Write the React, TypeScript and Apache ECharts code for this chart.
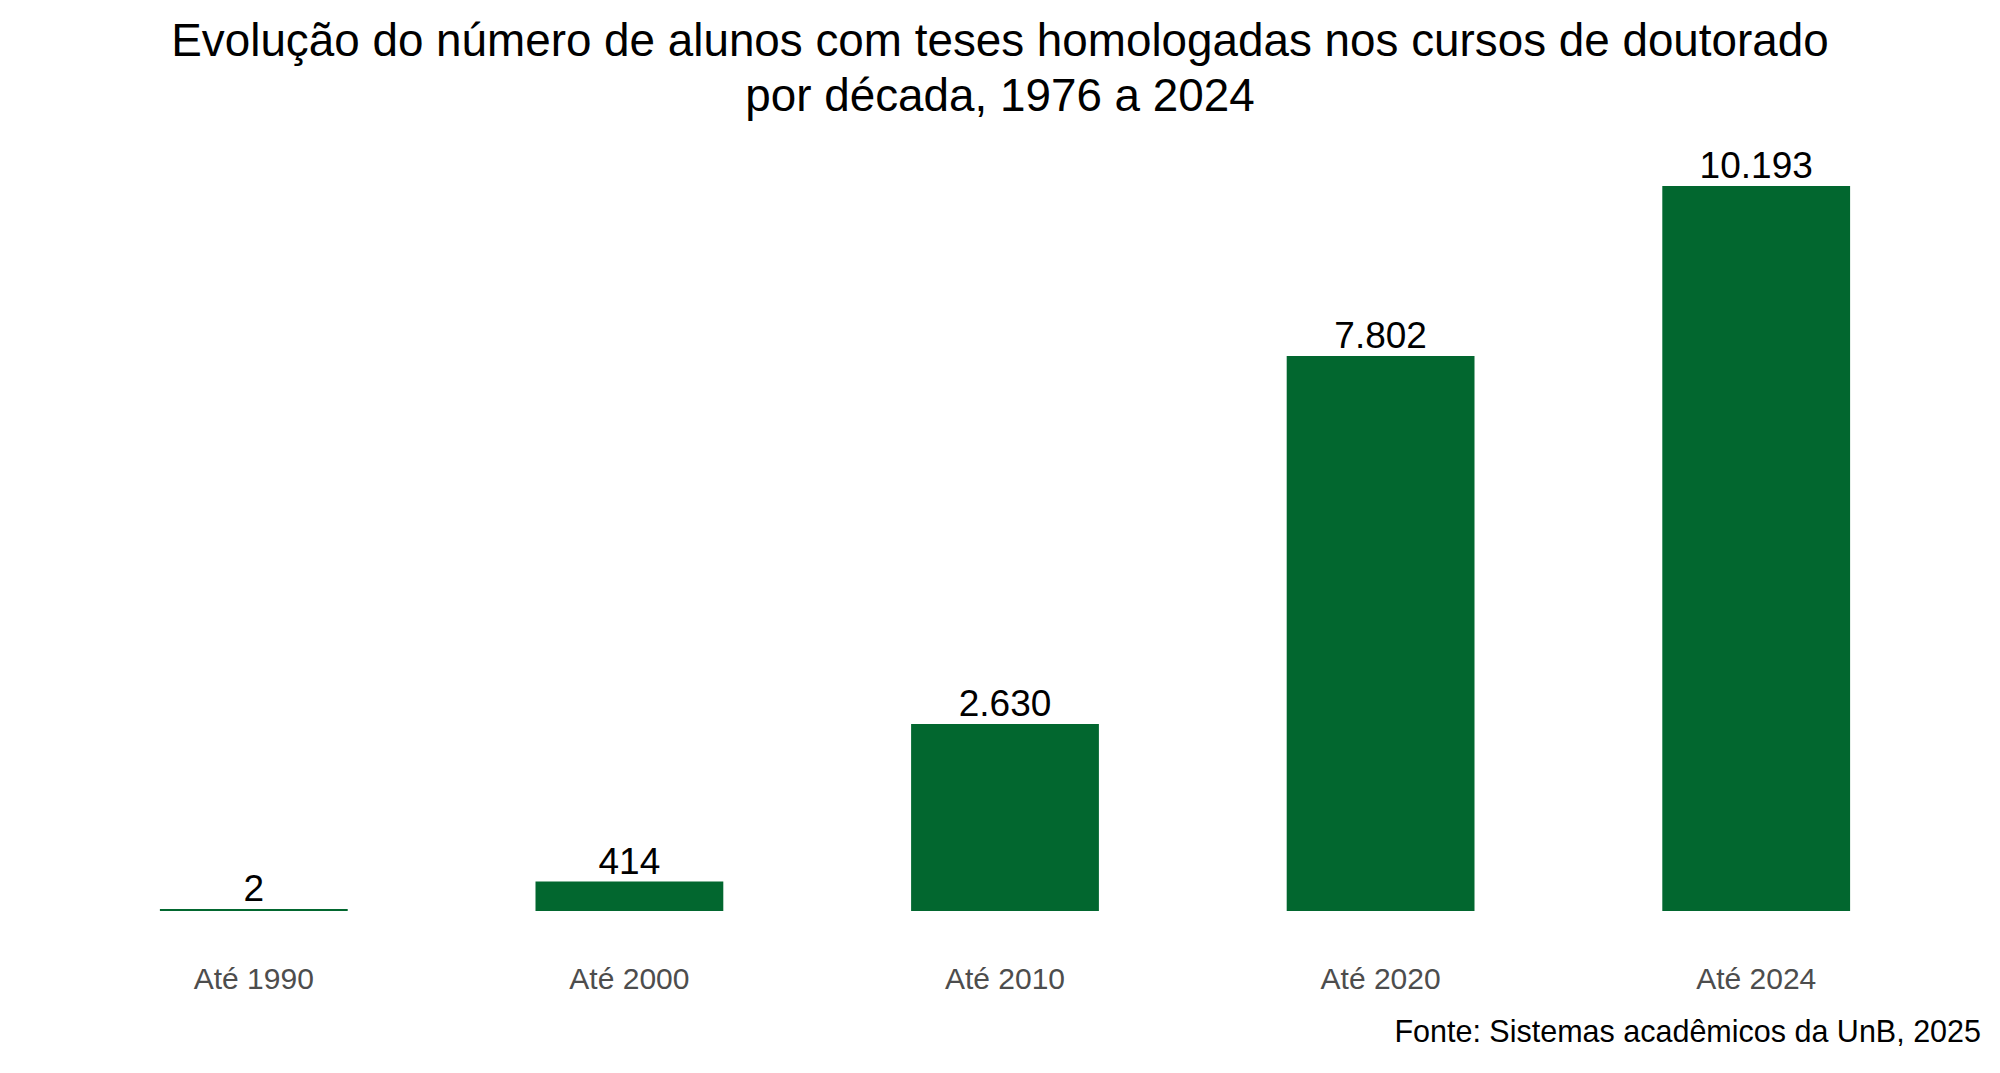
import React, { useEffect, useRef } from "react";
import * as echarts from "echarts";

const titleText = "Evolução do número de alunos com teses homologadas nos cursos de doutorado\npor década, 1976 a 2024";
const sourceText = "Fonte: Sistemas acadêmicos da UnB, 2025";
const categories = ["Até 1990", "Até 2000", "Até 2010", "Até 2020", "Até 2024"];
const values = [2, 414, 2630, 7802, 10193];

const FONT = "'Liberation Sans', Arial, sans-serif";
const GREEN = "#02672f";

function fmt(v: number): string {
  const s = String(Math.round(v));
  return s.replace(/\B(?=(\d{3})+(?!\d))/g, ".");
}

export default function App() {
  const ref = useRef<HTMLDivElement>(null);
  useEffect(() => {
    if (!ref.current) return;
    const chart = echarts.init(ref.current, null, { renderer: "svg" });
    chart.setOption({
      animation: false,
      backgroundColor: "#ffffff",
      title: [
        {
          text: titleText,
          left: "center",
          top: 13,
          padding: [0, 0, 0, 25],
          textStyle: {
            fontFamily: FONT,
            fontSize: 45.8,
            fontWeight: "normal",
            color: "#000000",
            lineHeight: 55,
          },
        },
        {
          text: sourceText,
          right: 19,
          top: 1016,
          padding: 0,
          textStyle: {
            fontFamily: FONT,
            fontSize: 30.5,
            fontWeight: "normal",
            color: "#000000",
            lineHeight: 30.5,
          },
        },
      ],
      grid: { left: 66, right: 56, top: 186, bottom: 162, containLabel: false },
      xAxis: {
        type: "category",
        data: categories,
        axisLine: { show: false },
        axisTick: { show: false },
        axisLabel: {
          margin: 52,
          fontFamily: FONT,
          fontSize: 30,
          lineHeight: 30,
          color: "#4d4d4d",
        },
      },
      yAxis: {
        type: "value",
        min: 0,
        max: 10193,
        show: false,
        splitLine: { show: false },
      },
      series: [
        {
          type: "bar",
          data: values,
          barCategoryGap: "50%",
          barMinHeight: 2,
          itemStyle: { color: GREEN },
          label: {
            show: true,
            position: "top",
            distance: 2,
            fontFamily: FONT,
            fontSize: 37,
            lineHeight: 37,
            color: "#000000",
            formatter: (p: any) => fmt(p.value),
          },
        },
      ],
    });
    return () => chart.dispose();
  }, []);
  return (
    <div
      ref={ref}
      style={{ position: "fixed", left: 0, top: 0, width: 2000, height: 1073, background: "#fff" }}
    />
  );
}
